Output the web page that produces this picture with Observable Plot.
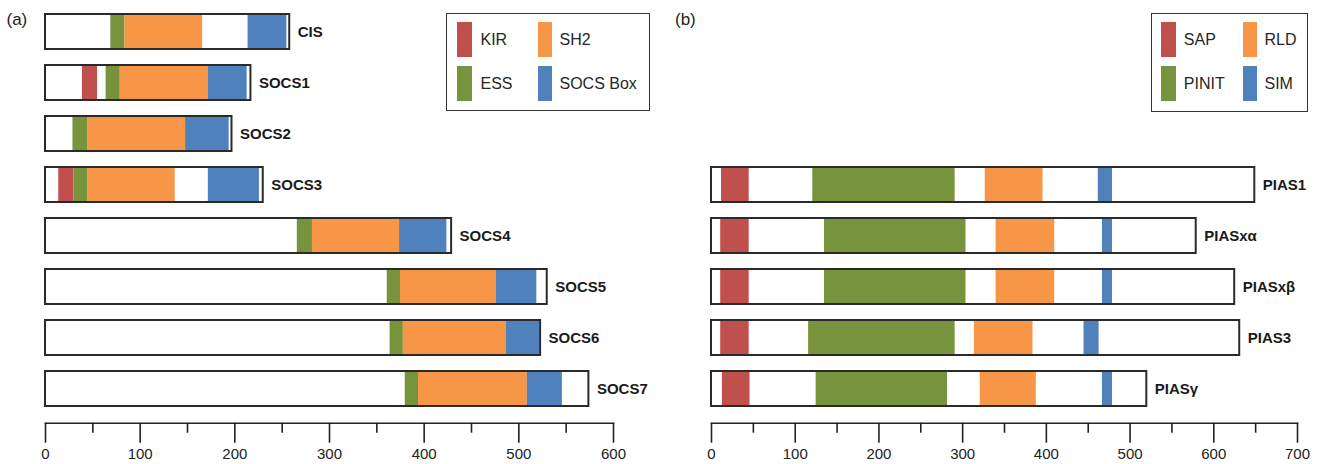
<!DOCTYPE html>
<html><head><meta charset="utf-8">
<script src="https://cdn.jsdelivr.net/npm/d3@7"></script>
<script src="https://cdn.jsdelivr.net/npm/@observablehq/plot@0.6"></script>
<style>
body{margin:0;background:#fff;font-family:"Liberation Sans",Arial,sans-serif;}
#wrap{position:relative;width:1326px;height:464px;overflow:hidden;background:#fff;}
.panel{position:absolute;top:0;}
.tag{position:absolute;font-size:17px;line-height:17px;color:#222;}
.legend{position:absolute;border:1.5px solid #333;box-sizing:border-box;background:#fff;}
.sw{position:absolute;}
.lt{position:absolute;font-size:16px;line-height:35px;height:35px;color:#262626;white-space:nowrap;}
</style></head>
<body>
<div id="wrap"></div>
<script>
// ---------- Panel (a): SOCS family ----------
const socsNames   = ["CIS","SOCS1","SOCS2","SOCS3","SOCS4","SOCS5","SOCS6","SOCS7"];
const socsLengths = [258, 217, 197, 230, 429, 530, 523, 574];
const socsTypes   = ["KIR","SH2","ESS","SOCS Box"];
const socsColors  = ["#c0504d","#f79646","#77933c","#4f81bd"];
// [protein, start, end]
const socsKIR = [["SOCS1",39,55],["SOCS3",14,30]];
const socsESS = [["CIS",69,84],["SOCS1",64,79],["SOCS2",29,45],["SOCS3",30,45],["SOCS4",266,282],["SOCS5",361,375],["SOCS6",364,378],["SOCS7",380,394]];
const socsSH2 = [["CIS",84,166],["SOCS1",79,172],["SOCS2",45,148],["SOCS3",45,137],["SOCS4",282,374],["SOCS5",375,476],["SOCS6",378,487],["SOCS7",394,509]];
const socsBox = [["CIS",214,255],["SOCS1",172,213],["SOCS2",148,194],["SOCS3",172,226],["SOCS4",374,424],["SOCS5",476,519],["SOCS6",487,522],["SOCS7",509,546]];
const socsTicks      = [0,100,200,300,400,500,600];
const socsMinorTicks = [50,150,250,350,450,550];

// ---------- Panel (b): PIAS family ----------
const piasNames   = ["PIAS1","PIASxα","PIASxβ","PIAS3","PIASγ"];
const piasLengths = [649, 579, 625, 631, 520];
const piasTypes   = ["SAP","RLD","PINIT","SIM"];
const piasColors  = ["#c0504d","#f79646","#77933c","#4f81bd"];
const piasSAP   = [["PIAS1",12,45],["PIASxα",11,45],["PIASxβ",11,45],["PIAS3",11,45],["PIASγ",13,46]];
const piasPINIT = [["PIAS1",121,291],["PIASxα",135,304],["PIASxβ",135,304],["PIAS3",116,291],["PIASγ",125,282]];
const piasRLD   = [["PIAS1",327,396],["PIASxα",340,410],["PIASxβ",340,410],["PIAS3",314,384],["PIASγ",321,388]];
const piasSIM   = [["PIAS1",462,479],["PIASxα",467,479],["PIASxβ",467,479],["PIAS3",445,463],["PIASγ",467,479]];
const piasTicks      = [0,100,200,300,400,500,600,700];
const piasMinorTicks = [50,150,250,350,450,550,650];

const FONT = '"Liberation Sans", Arial, sans-serif';

function panel({names, lengths, domains, types, colors, xMax, majorTicks, minorTicks, marginLeft, marginRight, yRange}) {
  const proteins = names.map((name, i) => ({name, length: lengths[i]}));
  const segs = domains.flatMap(([type, list]) => list.map(([name, start, end]) => ({name, type, start, end})));
  return Plot.plot({
    width: 663, height: 464,
    marginTop: 0, marginBottom: 41.3, marginLeft, marginRight,
    x: {domain: [0, xMax], axis: null, label: null},
    y: {domain: names, range: yRange, paddingInner: 0.305, paddingOuter: 0, axis: null},
    color: {domain: types, range: colors},
    style: {fontFamily: FONT, background: "white", color: "#222", overflow: "visible"},
    marks: [
      Plot.barX(proteins, {y: "name", x1: 0, x2: "length", fill: "white"}),
      Plot.barX(segs, {y: "name", x1: "start", x2: "end", fill: "type"}),
      Plot.barX(proteins, {y: "name", x1: 0, x2: "length", fill: "none", stroke: "#2a2a2a", strokeWidth: 2}),
      Plot.text(proteins, {y: "name", x: "length", text: "name", dx: 8, textAnchor: "start",
        fontSize: 15, fontWeight: "bold", fill: "#1a1a1a"}),
      Plot.frame({anchor: "bottom", stroke: "#222", strokeWidth: 1.6}),
      Plot.axisX({ticks: majorTicks, tickSize: 20, tickPadding: 5, fontSize: 15,
        stroke: "#222", strokeWidth: 1.6, label: null, tickFormat: d => String(d)}),
      Plot.axisX({ticks: minorTicks, tickSize: 10, text: null, stroke: "#222", strokeWidth: 1.6, label: null})
    ]
  });
}

const wrap = document.getElementById("wrap");

const left = panel({
  names: socsNames, lengths: socsLengths, types: socsTypes, colors: socsColors,
  domains: [["KIR", socsKIR], ["ESS", socsESS], ["SH2", socsSH2], ["SOCS Box", socsBox]],
  xMax: 600, majorTicks: socsTicks, minorTicks: socsMinorTicks,
  marginLeft: 45, marginRight: 50, yRange: [13.3, 406.5]
});
left.classList.add("panel"); left.style.left = "0px";
wrap.appendChild(left);

const right = panel({
  names: piasNames, lengths: piasLengths, types: piasTypes, colors: piasColors,
  domains: [["SAP", piasSAP], ["PINIT", piasPINIT], ["RLD", piasRLD], ["SIM", piasSIM]],
  xMax: 700, majorTicks: piasTicks, minorTicks: piasMinorTicks,
  marginLeft: 48, marginRight: 29, yRange: [166.6, 406.5]
});
right.classList.add("panel"); right.style.left = "663px";
wrap.appendChild(right);

// panel tags
function tag(text, x) {
  const d = document.createElement("div");
  d.className = "tag"; d.textContent = text;
  d.style.left = x + "px"; d.style.top = "11px";
  wrap.appendChild(d);
}
tag("(a)", 6.5);
tag("(b)", 675);

// legends (2 x 2 grid)
function legend(types, colors, box, swCols, txtCols, rows) {
  const L = document.createElement("div");
  L.className = "legend";
  Object.assign(L.style, {left: box[0] + "px", top: box[1] + "px", width: box[2] + "px", height: box[3] + "px"});
  types.forEach((t, i) => {
    const c = i % 2, r = Math.floor(i / 2);
    const s = document.createElement("div");
    s.className = "sw";
    Object.assign(s.style, {left: swCols[c] + "px", top: rows[r] + "px", width: "14.7px", height: "35px", background: colors[i]});
    L.appendChild(s);
    const tx = document.createElement("div");
    tx.className = "lt"; tx.textContent = t;
    Object.assign(tx.style, {left: txtCols[c] + "px", top: rows[r] + "px"});
    L.appendChild(tx);
  });
  wrap.appendChild(L);
}
legend(socsTypes, socsColors, [446, 12.7, 204, 98.5], [10.2, 90.8], [33.5, 112.5], [8.5, 52]);
legend(piasTypes, piasColors, [1150.7, 12.7, 157.6, 99.5], [9.5, 91.1], [32.1, 112.8], [8.5, 52.5]);
</script>
</body></html>
